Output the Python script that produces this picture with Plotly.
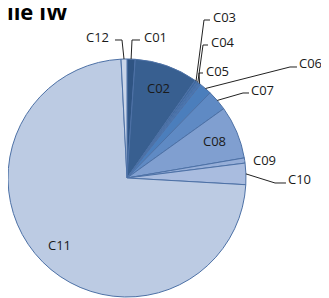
import math
import plotly.graph_objects as go

labels = ["C01", "C02", "C03", "C04", "C05", "C06", "C07", "C08", "C09", "C10", "C11", "C12"]
values = [1.1, 8.6, 0.3, 0.3, 0.3, 1.7, 2.8, 7.2, 0.7, 2.9, 73.3, 0.8]
colors = ["#2f5483", "#385f90", "#3d68a0", "#4370aa", "#4876b3", "#4b7ebc", "#5f8ac4",
          "#809fd0", "#96aed8", "#a9bcdf", "#bccbe3", "#c9d5e9"]
inside = ["C02", "C08", "C11"]
# label text positions (window pixels) and leader elbows
label_pos = {
    "C12": (111, 37, "right", (122, 40), (115, 40)),
    "C01": (142, 37, "left", (132, 40), (140, 40)),
    "C03": (211, 17, "left", (204, 20), (210, 20)),
    "C04": (209, 42, "left", (203, 45), (208, 45)),
    "C05": (204, 71, "left", (199, 73), (203, 73)),
    "C06": (297, 63, "left", (290, 67), (297, 67)),
    "C07": (249, 90, "left", (243, 93), (249, 93)),
    "C09": (251, 160, "left", None, None),
    "C10": (286, 179, "left", (275, 183), (286, 183)),
}

OFF = 8  # page body margin
W, H = 329 - OFF, 298 - OFF
r = 119
cx, cy = OFF + r, 178


def px(x):
    return (x - OFF) / W


def py(y):
    return 1 - (y - OFF) / H


fig = go.Figure(go.Pie(
    labels=labels, values=values, sort=False, direction="clockwise", rotation=0,
    marker=dict(colors=colors, line=dict(color="#4d71a6", width=1)),
    textinfo="none", hoverinfo="label+percent",
    domain=dict(x=[0, 2 * r / W], y=[py(cy + r), py(cy - r)]),
))

total = sum(values)
cum = 0
annotations = []
shapes = []
font = dict(family="Open Sans, Liberation Sans, sans-serif", size=13, color="#1a1a1a")
for lab, v in zip(labels, values):
    mid = (cum + v / 2) / total * 2 * math.pi
    cum += v
    if lab in inside:
        tx = cx + 0.8 * r * math.sin(mid)
        ty = cy - 0.8 * r * math.cos(mid)
        annotations.append(dict(x=px(tx), y=py(ty), xref="paper", yref="paper", text=lab,
                                showarrow=False, font=font, xanchor="center", yanchor="middle"))
        continue
    tx, ty, anchor, elbow, end = label_pos[lab]
    annotations.append(dict(x=px(tx), y=py(ty), xref="paper", yref="paper", text=lab,
                            showarrow=False, font=font, xanchor=anchor, yanchor="middle"))
    if elbow is not None:
        tipx = cx + r * math.sin(mid)
        tipy = cy - r * math.cos(mid)
        path = "M {:.4f},{:.4f} L {:.4f},{:.4f} L {:.4f},{:.4f}".format(
            px(tipx), py(tipy), px(elbow[0]), py(elbow[1]), px(end[0]), py(end[1]))
        shapes.append(dict(type="path", path=path, xref="paper", yref="paper",
                           line=dict(color="#222222", width=1)))

annotations.append(dict(x=px(70), y=py(28), xref="paper", yref="paper", text="<b>Profile IW</b>",
                        showarrow=False, xanchor="right", yanchor="bottom",
                        font=dict(family="Open Sans, Liberation Sans, sans-serif", size=22, color="#000000")))

fig.update_layout(width=W, height=H, margin=dict(l=0, r=0, t=0, b=0),
                  paper_bgcolor="white", plot_bgcolor="white", showlegend=False,
                  annotations=annotations, shapes=shapes)
fig.write_html("out.html")
